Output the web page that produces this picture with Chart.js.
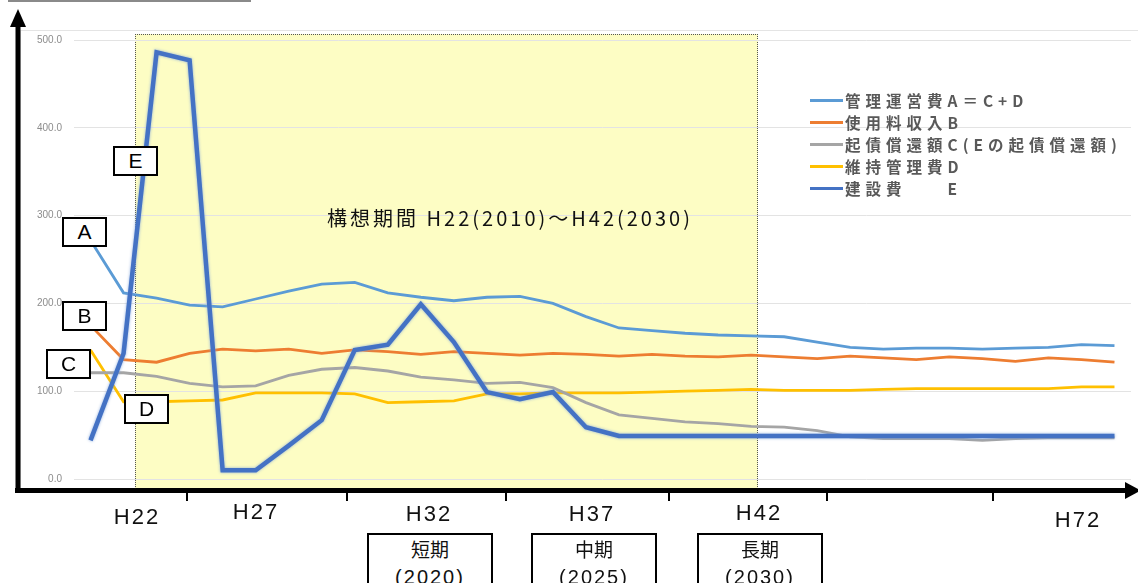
<!DOCTYPE html>
<html>
<head>
<meta charset="utf-8">
<script src="https://cdn.jsdelivr.net/npm/chart.js@4.4.1/dist/chart.umd.min.js"></script>
<style>
body{margin:0;width:1138px;height:583px;overflow:hidden;background:#fff;position:relative;font-family:"Liberation Sans",Arial,sans-serif}
.abs{position:absolute}
#c{position:absolute;left:0;top:0;z-index:2}
#frame{left:20px;top:30px;width:1120px;height:460px;border-left:1px solid #e4e4e4;border-top:1px solid #e4e4e4;z-index:0}
#period{left:135px;top:34px;width:623px;height:457px;box-sizing:border-box;background:#fdfdc4;border:1px dotted #555;border-bottom:none;z-index:1}
#topline{left:8px;top:0;width:243px;height:2px;background:#8a8a8a;z-index:3}
#title{left:510px;top:217px;transform:translate(-50%,-50%);font-family:"Noto Sans CJK JP",sans-serif;font-size:20px;letter-spacing:3px;white-space:nowrap;color:#111;z-index:3}
.tag{box-sizing:border-box;border:2px solid #000;background:#fff;text-align:center;font-size:21px;line-height:26px;z-index:3}
.xl{transform:translate(-50%,-50%);font-size:22px;letter-spacing:2px;color:#111;white-space:nowrap;z-index:3}
.term{box-sizing:border-box;width:126px;height:62px;border:2px solid #000;border-bottom:none;background:#fff;text-align:center;font-family:"Noto Sans CJK JP",sans-serif;font-size:19px;line-height:27px;color:#111;z-index:3}
.term .y{font-family:"Liberation Sans",sans-serif;font-size:20px;letter-spacing:2px}
#legend{left:810px;top:89px;z-index:3}
.lr{height:22px;display:flex;align-items:center;font-family:"Noto Sans CJK JP",sans-serif;font-weight:bold;font-size:15.5px;letter-spacing:5px;color:#595959;white-space:nowrap}
.lr i{display:inline-block;width:33px;height:3px;margin-right:2px}
</style>
</head>
<body>
<div id="topline" class="abs"></div>
<div id="frame" class="abs"></div>
<div id="period" class="abs"></div>
<canvas id="c" width="1138" height="583"></canvas>
<div id="title" class="abs">構想期間 H22(2010)～H42(2030)</div>
<div id="legend" class="abs"></div>
<svg class="abs" style="left:0;top:0;z-index:3" width="1138" height="583" id="axes"></svg>
<div id="labels"></div>
<script>
// years (not shown on the inner chart)
const years = ['H21','H22','H23','H24','H25','H26','H27','H28','H29','H30','H31','H32','H33','H34','H35','H36',
  'H37','H38','H39','H40','H41','H42','H45','H48','H51','H54','H57','H60','H63','H66','H69','H72'];

const seriesNames = ['管理運営費A＝C+D','使用料収入B','起債償還額C(Eの起債償還額)','維持管理費D','建設費　　E'];
const colors = ['#5b9bd5','#ed7d31','#a5a5a5','#ffc000','#4472c4'];

const costA = [272,212,206,198,196,205,214,222,224,212,207,203,207,208,200,185,172,169,166,164,163,162,156,150,148,149,149,148,149,150,153,152];
const incomeB = [175,136,133,143,148,146,148,143,147,145,142,145,143,141,143,142,140,142,140,139,141,139,137,140,138,136,139,137,134,138,136,133];
const repayC = [121,121,117,109,105,106,118,125,127,123,116,113,109,110,104,87,73,69,65,63,60,59,55,48,46,46,46,44,46,47,47,47];
const upkeepD = [147,88,88,89,90,98,98,98,97,87,88,89,97,97,98,98,98,99,100,101,102,101,101,101,102,103,103,103,103,103,105,105];
const buildE = [44,143,486,477,10,10,38,67,147,153,199,156,99,91,99,59,49,49,49,49,49,49,49,49,49,49,49,49,49,49,49,49];

const axisLabels = ['H22','H27','H32','H37','H42','H72'];
const terms = [['短期','(2020)'],['中期','(2025)'],['長期','(2030)']];
const tags = ['A','B','C','D','E'];

// layout of the hand drawn parts
const axisLabelPos = [[137,517],[256,512],[429,514],[592,514],[759,513],[1078,520]];
const tickX = [187,347,506,669,827,993];
const termLeft = [367,531,697];
const tagPos = [[62,217],[62,301],[46,349],[124,394],[113,146]];

const lg = document.getElementById('legend');
seriesNames.forEach((n,i)=>{
  lg.innerHTML += `<div class="lr"><i style="background:${colors[i]}"></i>${n}</div>`;
});

let svg = '<line x1="18" y1="22" x2="18" y2="493" stroke="#000" stroke-width="5"/>'
  + '<polygon points="18,9 10,27 26,27" fill="#000"/>'
  + '<line x1="15" y1="490.5" x2="1128" y2="490.5" stroke="#000" stroke-width="5"/>'
  + '<polygon points="1141,490.5 1125,482 1125,499" fill="#000"/>';
tickX.forEach(x=>{ svg += `<line x1="${x}" y1="492" x2="${x}" y2="501" stroke="#000" stroke-width="2"/>`; });
document.getElementById('axes').innerHTML = svg;

let html = '';
axisLabels.forEach((t,i)=>{
  html += `<div class="abs xl" style="left:${axisLabelPos[i][0]}px;top:${axisLabelPos[i][1]}px">${t}</div>`;
});
terms.forEach((t,i)=>{
  html += `<div class="abs term" style="left:${termLeft[i]}px;top:533px">${t[0]}<br><span class="y">${t[1]}</span></div>`;
});
tags.forEach((t,i)=>{
  html += `<div class="abs tag" style="left:${tagPos[i][0]}px;top:${tagPos[i][1]}px;width:45px;height:30px">${t}</div>`;
});
document.getElementById('labels').innerHTML = html;

const glow = {
  id:'glow',
  beforeDatasetDraw(c,a){
    if(a.index===4){ c.ctx.save(); c.ctx.shadowColor='rgba(130,165,220,0.9)'; c.ctx.shadowBlur=3; }
  },
  afterDatasetDraw(c,a){ if(a.index===4) c.ctx.restore(); }
};

const values = [costA,incomeB,repayC,upkeepD,buildE];
new Chart(document.getElementById('c'),{
  type:'line',
  data:{
    labels:years,
    datasets: values.map((v,i)=>({
      label:seriesNames[i], data:v, borderColor:colors[i], backgroundColor:colors[i],
      borderWidth: i===4 ? 4.5 : 2.8, pointRadius:0, tension:0, fill:false,
      order: i===4 ? -1 : i
    }))
  },
  options:{
    responsive:false, animation:false, devicePixelRatio:1,
    layout:{padding:{top:40,right:7,bottom:104,left:0}},
    plugins:{legend:{display:false},tooltip:{enabled:false}},
    scales:{
      x:{offset:true,display:false},
      y:{min:0,max:500,
        ticks:{stepSize:100,padding:12,color:'#8c8c8c',font:{size:10,family:'Liberation Sans'},callback:v=>v.toFixed(1)},
        grid:{color:'#e3e3e3',drawTicks:false},
        border:{display:false},
        afterFit:s=>{s.width=74;}
      }
    }
  },
  plugins:[glow]
});
</script>
</body>
</html>
